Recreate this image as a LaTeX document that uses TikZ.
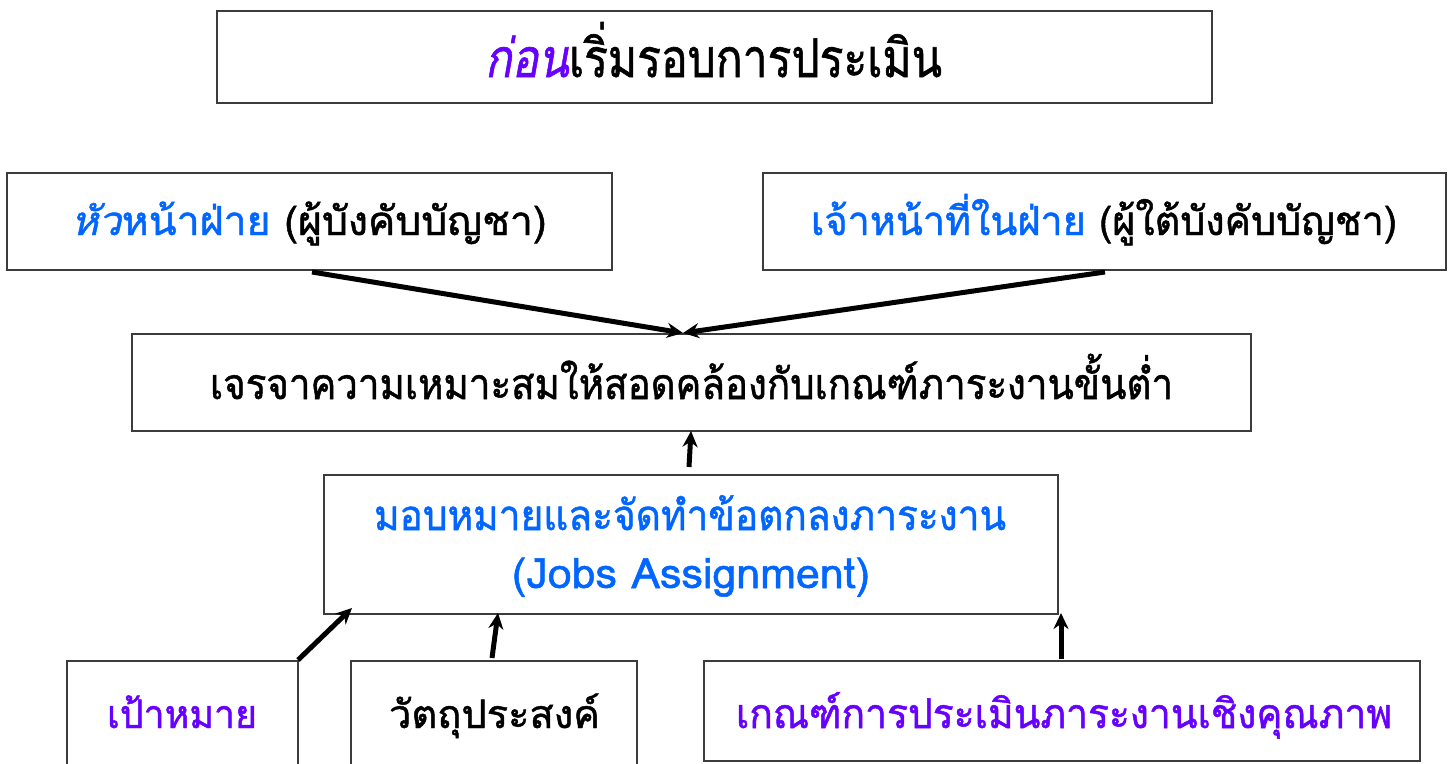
\documentclass[tikz,border=0pt]{standalone}
\usepackage{fontspec}
\usepackage{graphicx}
\setmainfont[Script=Thai, FakeBold=1.2]{Loma}
\usetikzlibrary{arrows.meta}
\definecolor{tpurple}{RGB}{102,0,255}
\definecolor{tblue}{RGB}{0,102,255}
\definecolor{bordergray}{RGB}{60,60,60}
\newlength\mylen
% #1 consonant height (pt), #2 target width (pt), #3 text
\newcommand\fittext[3]{%
  \begingroup
  \fontsize{10}{12}\selectfont
  \settoheight{\mylen}{ม}%
  \pgfmathsetmacro\myfsz{10*#1/\mylen}%
  \fontsize{\myfsz}{\myfsz}\selectfont
  \settowidth{\mylen}{#3}%
  \pgfmathsetmacro\myxsc{#2/\mylen}%
  \scalebox{\myxsc}[1]{#3}%
  \endgroup}
\tikzset{
  box/.style={draw=bordergray, line width=1.3pt, fill=white, inner sep=0pt},
  lbl/.style={anchor=base, inner sep=0pt},
  conn/.style={line width=5pt, -{Stealth[length=16pt,width=15pt]}},
}
\begin{document}
\begin{tikzpicture}[x=1pt,y=-1pt]
\useasboundingbox (0,0) rectangle (1451,763);
% boxes
\node[box, minimum width=995pt, minimum height=92pt] (top) at (714.5,57) {};
\node[lbl] (topl) at (713.5,77) {\fittext{30}{457}{\textcolor{tpurple}{\textit{ก่อน}}เริ่มรอบการประเมิน}};
\node[box, minimum width=605pt, minimum height=97pt] (head) at (309.5,221.5) {};
\node[lbl] (headl) at (309,235) {\fittext{22.5}{475}{\textcolor{tblue}{\textit{หัว}หน้าฝ่าย} (ผู้บังคับบัญชา)}};
\node[box, minimum width=683pt, minimum height=97pt] (staff) at (1104.5,221.5) {};
\node[lbl] (staffl) at (1104,235) {\fittext{22.5}{586}{\textcolor{tblue}{เจ้าหน้าที่ในฝ่าย} (ผู้ใต้บังคับบัญชา)}};
\node[box, minimum width=1119pt, minimum height=97pt] (nego) at (691.5,382.5) {};
\node[lbl] (negol) at (691.5,399) {\fittext{24}{963}{เจรจาความเหมาะสมให้สอดคล้องกับเกณฑ์ภาระงานขั้นต่ำ}};
\node[box, minimum width=734pt, minimum height=139pt] (assign) at (691,544.5) {};
\node[lbl, text=tblue] (assignl1) at (690,530) {\fittext{23.5}{632}{มอบหมายและจัดทำข้อตกลงภาระงาน}};
\node[lbl, text=tblue] (assignl2) at (691,588) {\fittext{23.5}{358}{(Jobs Assignment)}};
\node[box, minimum width=231pt, minimum height=110pt] (goal) at (182.5,716) {};
\node[lbl, text=tpurple] (goall) at (182,728) {\fittext{22}{150}{เป้าหมาย}};
\node[box, minimum width=286pt, minimum height=110pt] (obj) at (494,716) {};
\node[lbl] (objl) at (494.5,728) {\fittext{22}{211}{วัตถุประสงค์}};
\node[box, minimum width=716pt, minimum height=100pt] (crit) at (1062,711) {};
\node[lbl, text=tpurple] (critl) at (1064,728) {\fittext{23}{656}{เกณฑ์การประเมินภาระงานเชิงคุณภาพ}};
% connectors
\coordinate (a1) at (312,272);
\coordinate (a2) at (1105,272);
\coordinate (m) at (683,333);
\draw[conn] (a1) -- (m);
\draw[conn] (a2) -- (m);
\coordinate (b1) at (689,467);
\coordinate (b2) at (691,431);
\draw[conn] (b1) -- (b2);
\coordinate (c1) at (298,660);
\coordinate (c1e) at (352,608);
\draw[conn] (c1) -- (c1e);
\coordinate (c2) at (492,658);
\coordinate (c2e) at (498,613);
\draw[conn] (c2) -- (c2e);
\coordinate (c3) at (1061,659);
\coordinate (c3e) at (1061,613);
\draw[conn] (c3) -- (c3e);
\end{tikzpicture}
\end{document}
